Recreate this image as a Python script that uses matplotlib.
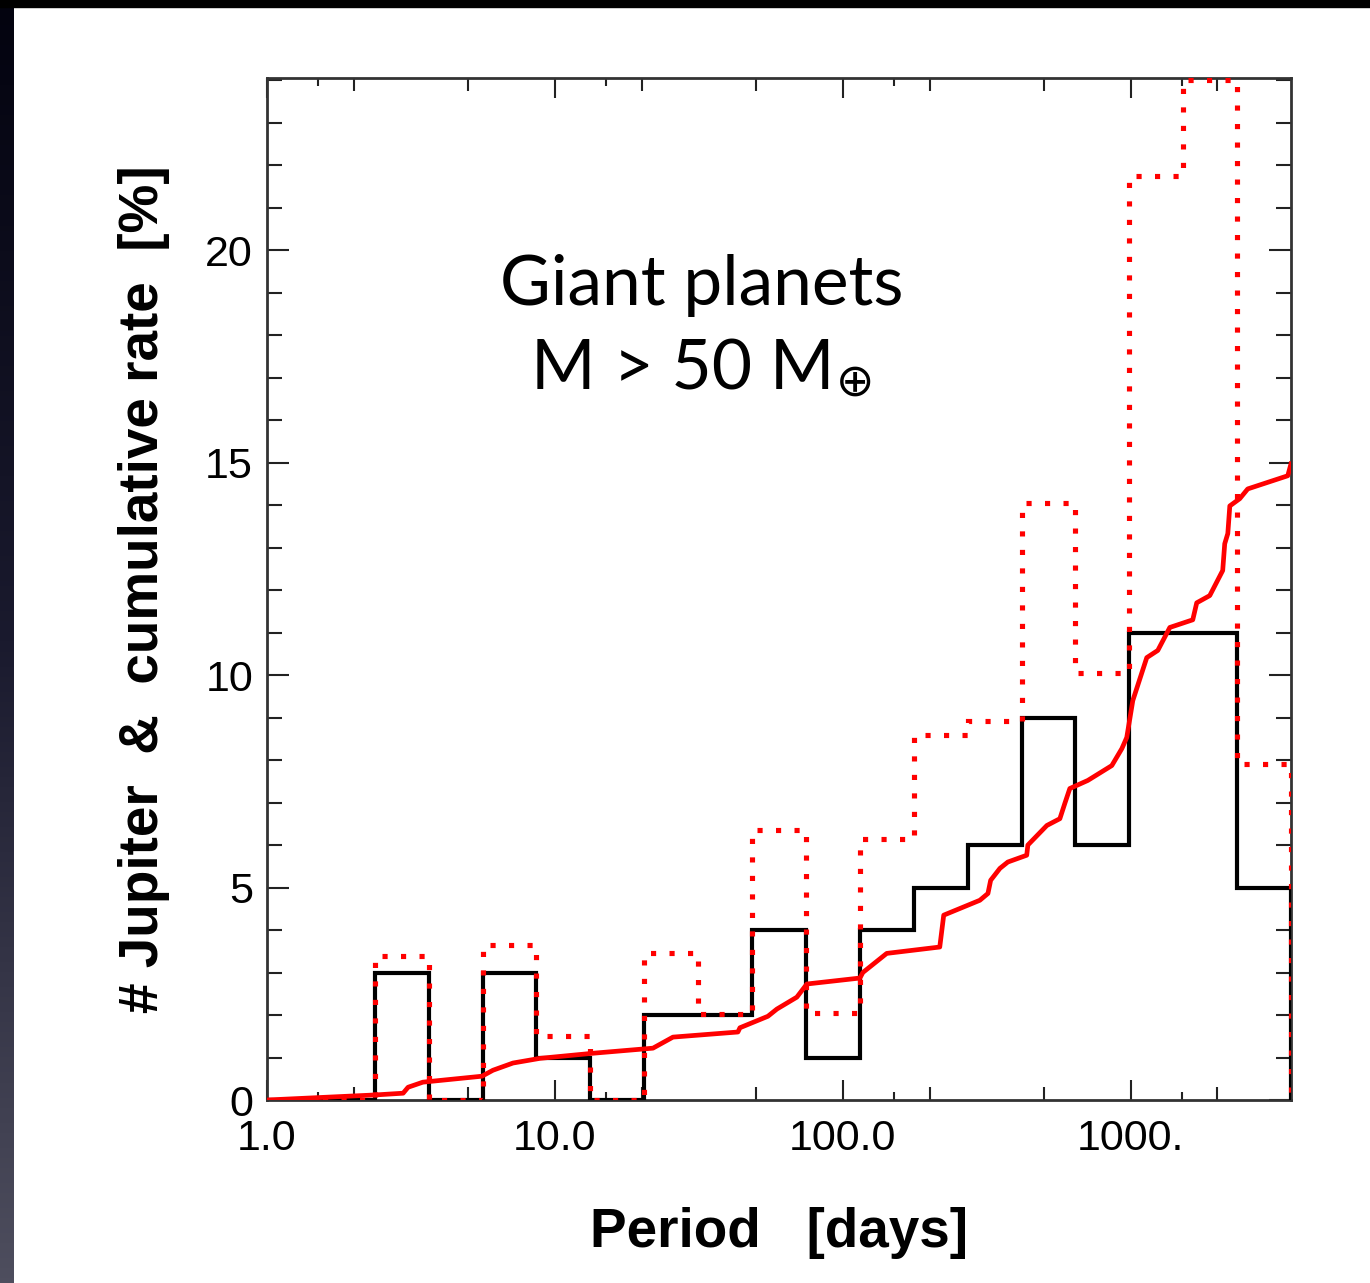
import numpy as np
import matplotlib
matplotlib.use("Agg")
import matplotlib.pyplot as plt
from matplotlib.patches import Rectangle
from matplotlib.colors import LinearSegmentedColormap
from matplotlib.ticker import FixedLocator, FixedFormatter, NullFormatter

# ---------------- data ----------------
bin_edges = [1.0, 1.539, 2.368, 3.643, 5.606, 8.627, 13.27, 20.43, 31.43, 48.36,
             74.39, 114.5, 176.2, 271.0, 417.2, 642.0, 987.5, 1520.0, 2339.0, 3598.0]
n_jupiter = [0, 0, 3, 0, 3, 1, 0, 2, 2, 4, 1, 4, 5, 6, 9, 6, 11, 11, 5]
rate_corrected = [0, 0, 3.4, 0, 3.65, 1.5, 0, 3.45, 2.03, 6.35, 2.05, 6.15, 8.6, 8.92,
                  14.05, 10.06, 21.75, 24.0, 7.9]
cum_period = [1.0, 2.39, 2.97, 3.09, 3.48, 5.58, 6.09, 7.15, 8.87, 13.55, 21.9, 25.7,
              43.2, 43.9, 54.9, 59.0, 69.2, 75.0, 114.6, 117.3, 142.0, 217.0, 224.0,
              299.0, 319.0, 326.0, 351.0, 374.0, 435.0, 439.0, 511.0, 567.0, 590.0,
              614.0, 709.0, 859.0, 931.0, 968.0, 1016.0, 1136.0, 1241.0, 1366.0,
              1641.0, 1694.0, 1880.0, 2085.0, 2119.0, 2172.0, 2207.0, 2389.0, 2547.0,
              3508.0, 3600.0]
cum_rate = [0.0, 0.12, 0.16, 0.3, 0.42, 0.56, 0.7, 0.87, 0.98, 1.1, 1.22, 1.48,
            1.6, 1.7, 1.97, 2.14, 2.42, 2.73, 2.87, 3.0, 3.45, 3.6, 4.35,
            4.7, 4.86, 5.17, 5.45, 5.6, 5.76, 6.0, 6.46, 6.62, 6.98,
            7.33, 7.52, 7.87, 8.27, 8.53, 9.4, 10.41, 10.58, 11.12,
            11.3, 11.7, 11.87, 12.46, 13.09, 13.33, 13.98, 14.15, 14.38,
            14.69, 14.97]

x_major = [1, 10, 100, 1000]
x_major_labels = ["1.0", "10.0", "100.0", "1000."]
x_minor_mid = [2, 5, 20, 50, 200, 500, 2000]
x_minor_short = [1.5, 15, 150, 1500]
y_major = [0, 5, 10, 15, 20]

title_line1 = "Giant planets"
title_line2 = "M > 50 M"
title_symbol = "\u2295"
xlabel = "Period   [days]"
ylabel = "# Jupiter  &  cumulative rate  [%]"

# ---------------- figure ----------------
W, H = 1370, 1283
fig = plt.figure(figsize=(W / 100, H / 100), dpi=100)
fig.patch.set_facecolor("white")

# slide-like dark borders
grad_ax = fig.add_axes([0, 0, 14 / W, 1])
grad = np.linspace(0, 1, 256).reshape(-1, 1)
cmap = LinearSegmentedColormap.from_list("g", ["#03030f", "#1a1a2e", "#4e4e5e"])
grad_ax.imshow(grad, aspect="auto", cmap=cmap, extent=[0, 1, 0, 1], origin="upper")
grad_ax.set_axis_off()
fig.patches.append(Rectangle((0, 1 - 7 / H), 1, 7 / H, transform=fig.transFigure,
                             color="black", zorder=10))

ax = fig.add_axes([267 / W, (H - 1100) / H, 1024 / W, 1022 / H])
ax.set_xscale("log")

ax.stairs(n_jupiter, bin_edges, baseline=0, color="black", lw=3.0, zorder=3)
ax.plot(cum_period, cum_rate, color="#ff0000", lw=3.4, zorder=4,
        solid_joinstyle="round")
ax.stairs(rate_corrected, bin_edges, baseline=0, color="#ff0000", lw=3.7,
          linestyle=(0, (1.0, 2.6)), zorder=5)

ax.set_xlim(1, 3600)
ax.set_ylim(0, 24.05)

ax.xaxis.set_major_locator(FixedLocator(x_major))
ax.xaxis.set_major_formatter(FixedFormatter(x_major_labels))
minor_locs = sorted(x_minor_mid + x_minor_short)
ax.xaxis.set_minor_locator(FixedLocator(minor_locs))
ax.xaxis.set_minor_formatter(NullFormatter())
ax.yaxis.set_major_locator(FixedLocator(y_major))
ax.yaxis.set_minor_locator(FixedLocator([v for v in range(1, 25) if v % 5 != 0]))

ax.tick_params(which="both", direction="in", top=True, right=True,
               width=1.5, color="#222222")
ax.tick_params(axis="x", which="major", length=14.5, labelsize=31, pad=14)
ax.tick_params(axis="x", which="minor", length=9.5)
ax.tick_params(axis="y", which="major", length=15.8, labelsize=31, pad=10)
ax.tick_params(axis="y", which="minor", length=10.8)
for lab in ax.get_xticklabels() + ax.get_yticklabels():
    lab.set_family(["Liberation Sans", "DejaVu Sans"])

ticks = ax.xaxis.get_minor_ticks(len(minor_locs))
for loc, t in zip(minor_locs, ticks):
    if loc in x_minor_short:
        t.tick1line.set_markersize(5.8)
        t.tick2line.set_markersize(5.8)

for sp in ax.spines.values():
    sp.set_linewidth(2.0)
    sp.set_color("#333333")

ax.set_xlabel(xlabel, fontsize=39.5, fontweight="bold",
              family=["Liberation Sans", "DejaVu Sans"])
ax.set_ylabel(ylabel, fontsize=39.5, fontweight="bold",
              family=["Liberation Sans", "DejaVu Sans"])
ax.xaxis.set_label_coords(0.5, -0.105)
ax.yaxis.set_label_coords(-0.095, 0.5)

# title block (figure pixel coordinates)
ax.text(702 / W, 1 - 305 / H, title_line1, transform=fig.transFigure, ha="center",
        va="baseline", fontsize=50, family=["Lato", "DejaVu Sans"])
ax.text(531 / W, 1 - 390 / H, title_line2, transform=fig.transFigure, ha="left",
        va="baseline", fontsize=50, family=["Lato", "DejaVu Sans"])
ax.text(855 / W, 1 - 383 / H, title_symbol, transform=fig.transFigure, ha="center",
        va="center", fontsize=33, family=["DejaVu Sans"])

fig.savefig("out.png", dpi=100, facecolor="white")
